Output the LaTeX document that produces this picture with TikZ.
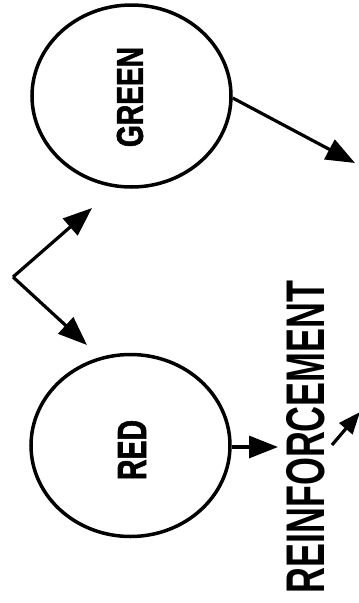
\documentclass[tikz,border=0pt]{standalone}
\usepackage{fontspec}
\setmainfont{Liberation Sans}
\newfontfamily\heavyfont[FakeBold=2]{Liberation Sans Bold}
\usepackage{graphicx}
\usetikzlibrary{shapes.geometric,arrows.meta}
\begin{document}
\begin{tikzpicture}[x=1pt,y=-1pt,
  blob/.style={ellipse,draw,line width=3.5pt,inner sep=0pt,minimum width=199pt,minimum height=182pt},
  arr/.style={line width=3.2pt,-{Triangle[length=29pt,width=22pt]}},
  lbl/.style={inner sep=0pt,rotate=90}]
\useasboundingbox (0,0) rectangle (359,603);
\clip (0,0) rectangle (359,603);
\node[blob] (green) at (131.5,96) {};
\node[blob] (red) at (130.5,445.5) {};
\node[lbl] (greent) at (130,97) {\resizebox{100pt}{26pt}{\heavyfont GREEN}};
\node[lbl] (redt) at (132,450) {\resizebox{60pt}{28pt}{\heavyfont RED}};
\node[lbl] (reinf) at (306,437) {\resizebox{313pt}{38pt}{\bfseries REINFORCEMENT}};
\coordinate (v) at (13,277);
\coordinate (vg) at (92,208);
\coordinate (vr) at (87,345);
\coordinate (gout) at (355,163);
\coordinate (rin) at (278,447);
\coordinate (sfrom) at (332,445);
\coordinate (sto) at (360,412);
\draw[arr] (v) -- (vg);
\draw[arr] (v) -- (vr);
\draw[arr] (green.east |- 0,98) -- (gout);
\draw[arr] (red.east |- 0,447) -- (rin);
\draw[arr,-{Triangle[length=22pt,width=17pt]}] (sfrom) -- (sto);
\end{tikzpicture}
\end{document}
